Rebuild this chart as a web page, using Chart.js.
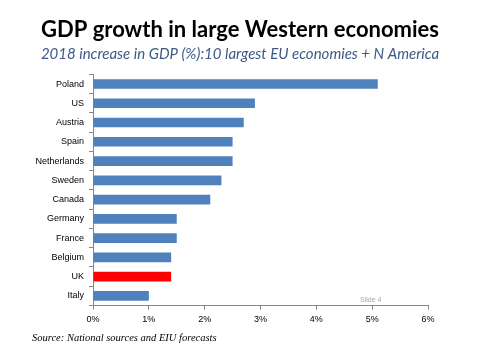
<!DOCTYPE html>
<html>
<head>
<meta charset="utf-8">
<script src="https://cdn.jsdelivr.net/npm/chart.js@4/dist/chart.umd.min.js"></script>
<style>
  html, body { margin: 0; padding: 0; background: #fff; }
  #wrap { position: relative; width: 480px; height: 360px; }
  #source { position: absolute; left: 32px; top: 332px; font-family: "Liberation Serif", serif; font-style: italic; font-size: 10.5px; color: #000; white-space: nowrap; }
  #slide { position: absolute; left: 360px; top: 296px; font-family: "Liberation Sans", sans-serif; font-size: 7px; color: #a6a6a6; white-space: nowrap; }
</style>
</head>
<body>
<div id="wrap">
  <canvas id="c" width="480" height="360"></canvas>
  <div id="slide">Slide 4</div>
  <div id="source">Source: National sources and EIU forecasts</div>
</div>
<script>
const countries = ["Poland", "US", "Austria", "Spain", "Netherlands", "Sweden", "Canada", "Germany", "France", "Belgium", "UK", "Italy"];
const growth2018 = [5.1, 2.9, 2.7, 2.5, 2.5, 2.3, 2.1, 1.5, 1.5, 1.4, 1.4, 1.0];
const xTicks = [0, 1, 2, 3, 4, 5, 6];
const highlight = "UK";

const barColors = countries.map(c => c === highlight ? "#ff0000" : "#4f81bd");

new Chart(document.getElementById("c"), {
  type: "bar",
  data: {
    labels: countries,
    datasets: [{
      data: growth2018,
      backgroundColor: barColors,
      borderWidth: 0,
      barPercentage: 0.5,
      categoryPercentage: 1.0
    }]
  },
  options: {
    indexAxis: "y",
    responsive: false,
    animation: false,
    devicePixelRatio: 1,
    layout: { padding: { left: 0, right: 0, top: 0, bottom: 34.5 } },
    plugins: {
      legend: { display: false },
      tooltip: { enabled: false },
      title: {
        display: true,
        text: "GDP growth in large Western economies",
        color: "#000",
        font: { family: "Lato", size: 22, weight: "bold", lineHeight: 1.2 },
        padding: { top: 17, bottom: 2 }
      },
      subtitle: {
        display: true,
        text: "2018 increase in GDP (%):10 largest EU economies + N America",
        color: "#3d5a87",
        font: { family: "Lato", size: 15, style: "italic", lineHeight: 1.2 },
        padding: { top: 0, bottom: 11 }
      }
    },
    scales: {
      x: {
        min: 0,
        max: 6,
        afterFit: s => { s.height = 20; },
        afterBuildTicks: s => { s.ticks = xTicks.map(v => ({ value: v })); },
        ticks: {
          callback: v => v + "%",
          color: "#000",
          font: { family: "Liberation Sans", size: 9 },
          padding: 5,
          maxRotation: 0
        },
        grid: { drawOnChartArea: false, drawTicks: true, tickLength: 4, color: "#868686", lineWidth: 1 },
        border: { display: true, color: "#868686", width: 1 }
      },
      y: {
        afterFit: s => { s.width = 93; },
        ticks: {
          color: "#000",
          font: { family: "Liberation Sans", size: 9 },
          padding: 5
        },
        grid: { drawOnChartArea: false, drawTicks: true, tickLength: 4, color: "#868686", lineWidth: 1, offset: true },
        border: { display: true, color: "#868686", width: 1 }
      },
      rightSpace: {
        type: "linear",
        position: "right",
        display: true,
        afterFit: s => { s.width = 52; },
        ticks: { display: false },
        grid: { display: false },
        border: { display: false }
      }
    }
  }
});
</script>
</body>
</html>
